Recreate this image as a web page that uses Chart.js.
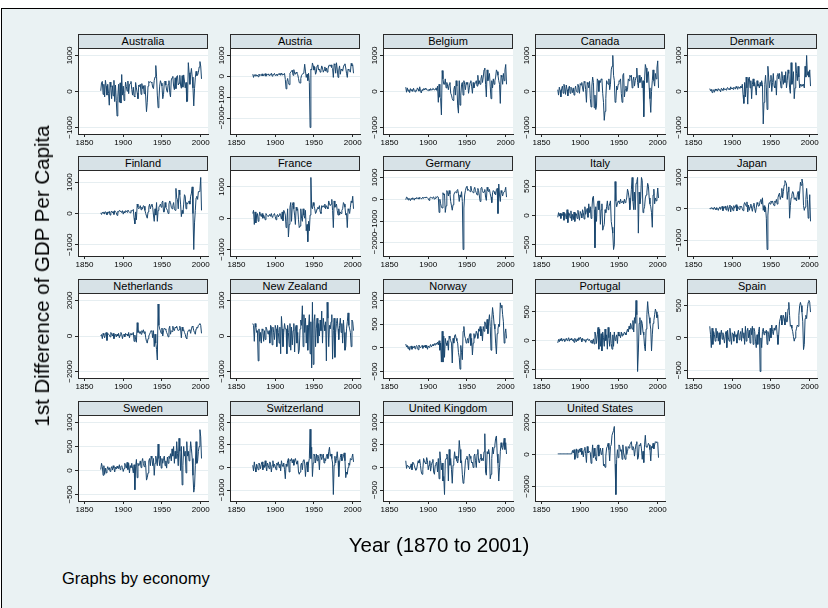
<!DOCTYPE html>
<html>
<head>
<meta charset="utf-8">
<script src="https://cdn.jsdelivr.net/npm/chart.js@4.4.1/dist/chart.umd.min.js"></script>
<style>
  html, body { margin: 0; padding: 0; background: #ffffff; }
  #graph {
    position: absolute; left: 1px; top: 8px; width: 840px; height: 620px;
    background: #EAF2F3; border-left: 1px solid #000; border-top: 1px solid #000;
  }
  .strip {
    position: absolute; box-sizing: border-box; height: 15px;
    background: #D7E2E7; border: 1px solid #2a2a2a;
    font: 11px "Liberation Sans", Arial, sans-serif; color: #000;
    text-align: center; line-height: 13px; white-space: nowrap;
  }
  canvas { position: absolute; }
  .txt { position: absolute; font-family: "Liberation Sans", Arial, sans-serif; color: #000; white-space: nowrap; }
</style>
</head>
<body>
<div id="graph"></div>
<script>
// Year-on-year change in GDP per capita, 1871-2001
const YEARS = Array.from({ length: 131 }, (_, i) => 1871 + i);
const X_TICKS = [1850, 1900, 1950, 2000];

const ECONOMIES = ['Australia', 'Austria', 'Belgium', 'Canada', 'Denmark',
  'Finland', 'France', 'Germany', 'Italy', 'Japan',
  'Netherlands', 'New Zealand', 'Norway', 'Portugal', 'Spain',
  'Sweden', 'Switzerland', 'United Kingdom', 'United States'];

const AUSTRALIA = [20,250,280,-80,200,-150,310,150,-100,200, -50,-380,260,120,-200,160,-120,310,-280,180,
  -250,-680,-150,200,-300,240,-320,470,-100,150, -250,-50,260,140,10,290,-60,200,220,280,
  60,-100,120,-130,-150,250,100,-40,-200,180, 140,200,-80,220,80,160,-60,170,-150,-560,
  -300,150,280,250,270,260,240,120,80,310, 400,720,420,-100,-450,-240,150,300,230,150,
  -200,-80,250,290,180,40,-20,200,300,-30, -150,320,380,420,150,50,380,80,420,440,
  180,230,450,180,90,440,120,460,290,100, 250,-280,-270,800,520,200,470,640,400,100,
  -400,80,380,560,440,460,530,680,830,700, 350];
const AUSTRIA = [100,-50,80,20,90,10,60,-20,110,40, 80,30,120,20,70,50,130,10,100,60,
  120,40,90,70,150,10,100,80,140,40, 60,110,30,120,90,150,50,160,70,120,
  80,140,-150,-600,-250,-100,-300,-400,150,200, 250,300,50,320,150,100,200,150,80,-100,
  -300,-320,-100,50,100,150,200,580,250,-50, 100,-200,150,-300,-2450,350,300,640,500,300,
  450,100,200,500,550,300,350,200,300,500, 400,200,300,450,250,400,200,350,500,550,
  480,550,420,380,-50,600,550,150,650,350, -50,300,500,100,350,300,250,450,550,600,
  400,150,-50,350,300,250,200,620,500,550, 150];
const BELGIUM = [120,-20,100,10,50,-30,80,20,60,0, 90,30,-10,40,20,100,60,10,130,20,
  -40,50,30,80,40,90,60,50,40,20, 60,30,80,40,50,90,70,40,60,100,
  30,150,-300,200,-150,-200,-650,580,350,200, 200,350,100,250,150,50,200,250,-50,-100,
  -200,-250,50,150,-100,300,150,-400,-600,300, -380,-100,200,250,-100,300,200,50,250,200,
  250,-50,100,250,300,150,-50,250,100,200, 250,300,150,450,200,300,200,350,450,250,
  400,600,650,200,-150,600,300,400,500,150, -200,300,100,350,200,300,400,600,550,450,
  300,200,-330,450,400,200,500,300,600,750, 200];
const CANADA = [50,-100,120,30,-150,80,150,-50,200,100, -80,180,50,-120,90,150,-50,120,80,-30,
  100,-100,50,150,0,-20,200,120,-50,220, 180,250,100,0,280,250,50,-300,250,200,
  100,280,-200,-430,150,400,250,-450,-100,-500, -400,350,300,0,300,250,350,330,-50,-300,
  -800,-550,-200,300,250,200,350,50,200,600, 700,1000,450,300,-300,-250,150,50,200,300,
  280,350,-50,-300,450,500,-150,50,150,0, 50,350,300,450,400,450,100,300,400,150,
  300,400,650,250,100,450,250,350,400,100, 300,-700,300,750,650,250,500,550,100,-200,
  -580,0,300,600,300,150,500,350,650,850, 100];
const DENMARK = [80,20,60,-30,50,40,-20,70,30,60, 10,80,40,50,-10,90,60,30,100,50,
  70,40,90,110,60,80,50,130,70,100, 60,120,90,70,140,100,60,130,110,90,
  150,100,200,-100,-330,250,-150,400,100,-350, 350,400,100,300,-200,200,350,150,250,100,
  -100,300,150,200,100,250,150,300,200,-900, -300,200,450,100,-500,700,400,100,300,450,
  0,250,500,150,100,300,-100,450,500,350, 500,300,100,550,350,200,450,250,550,100,
  300,600,500,100,-50,800,200,300,550,-200, 100,800,500,300,700,400,100,200,150,200,
  150,200,100,700,400,1000,450,550,400,600, 150];
const FINLAND = [20,-30,40,10,50,-20,60,30,-40,50, 10,70,-50,40,80,20,60,-30,90,50,
  30,-60,70,40,100,80,60,30,90,-20, 60,20,90,80,40,110,70,50,20,100,
  80,90,130,-150,-330,50,-200,300,200,150, 180,250,120,200,150,250,230,100,0,-80,
  -150,50,200,300,150,250,300,200,-50,-250, 150,-50,350,-250,100,200,250,300,200,350,
  400,50,50,350,200,150,100,0,300,400, 350,200,150,250,350,150,100,800,500,450,
  150,750,600,300,-100,100,0,300,600,550, 150,350,300,350,400,300,550,650,850,0,
  -1150,-300,100,500,550,450,700,700,750,1150, 100];
const FRANCE = [150,250,-200,200,-150,100,150,-100,50,200, 100,50,150,0,100,50,-50,150,100,80,
  50,100,120,60,150,30,80,100,150,50, -50,80,120,40,100,150,80,-30,200,-80,
  250,200,100,-300,-100,300,-600,-200,350,500, -100,400,500,300,100,-200,350,250,300,-50,
  -300,-250,300,0,-100,300,100,0,250,-400, -200,-750,-100,-400,100,1300,350,300,500,400,
  300,150,200,300,350,300,400,200,150,400, 350,400,350,450,300,400,350,300,550,450,
  400,450,600,250,-300,550,350,400,450,250, 100,300,100,200,150,250,300,500,450,350,
  100,150,-300,300,250,150,350,550,500,700, 300];
const GERMANY = [-20,100,80,-30,50,10,-60,40,0,70, 30,-40,60,20,80,40,70,10,90,50,
  20,60,100,40,80,90,60,100,70,30, -50,60,100,80,50,90,110,0,40,120,
  80,130,100,-600,0,-200,-350,-400,300,200, 250,-600,-300,400,300,150,400,250,-100,-300,
  -500,-250,200,300,350,300,400,450,250,-100, 200,100,350,-100,-2300,-400,200,400,550,600,
  400,450,400,350,600,400,350,300,450,550, 400,300,200,500,400,150,-100,500,550,400,
  300,350,450,100,-50,550,400,350,450,250, 100,-150,300,400,350,250,200,450,500,-650,
  700,200,-100,400,300,150,300,350,400,550, 100];
const ITALY = [-30,50,-10,40,-50,30,0,60,-80,40, 20,-60,100,-120,50,30,-40,80,-90,20,
  -70,60,-100,40,30,-50,90,10,-80,70, 30,-40,100,50,-60,150,20,80,120,-30,
  200,50,150,-50,100,300,330,100,-550,150, -100,200,250,100,250,-150,100,200,-250,-200,
  -150,100,50,150,250,100,150,200,250,-100, -200,-300,-580,-500,580,250,150,200,250,230,
  200,280,220,230,250,200,280,220,250,300, 450,400,300,100,250,450,650,250,100,400,
  100,550,580,650,-300,400,200,300,650,600, 50,100,150,300,350,400,550,500,300,200,
  150,50,-200,350,450,200,300,250,300,470, 300];
const JAPAN = [20,-10,40,0,30,-20,50,10,-30,40, 0,-50,30,60,-20,40,80,-60,50,20,
  90,-40,60,100,-80,50,120,-100,80,40, -60,100,20,60,130,-70,80,40,-20,90,
  50,80,0,-60,120,200,150,80,220,-100, 120,-50,60,150,20,-80,100,180,0,-120,
  30,200,150,80,100,250,300,150,350,-50, 100,-100,50,-300,-1300,-200,150,200,150,250,
  200,250,150,100,250,200,300,150,350,450, 500,300,400,650,350,550,750,900,850,800,
  300,550,700,-300,100,350,450,550,500,300, 350,300,250,450,550,300,500,850,750,950,
  800,100,-50,50,300,650,300,-300,-100,450, -400];
const NETHERLANDS = [0,80,-150,150,50,-100,100,200,-250,150, 100,50,-50,200,100,0,150,-150,50,100,
  -50,100,0,150,-100,50,200,100,-150,50, 100,-50,150,50,100,0,200,-100,100,150,
  50,100,200,-300,50,-200,-350,750,200,300, 150,250,100,300,200,350,150,250,-100,-300,
  -400,-150,0,100,200,300,250,-100,300,-600, 100,-400,-750,-1350,1800,600,400,300,150,450,
  0,300,450,400,350,200,100,-50,400,550, 100,300,250,550,350,300,500,450,550,400,
  300,350,550,400,-100,500,300,350,200,100, -100,-150,200,300,350,300,150,400,550,500,
  300,200,100,400,500,450,600,650,700,600, 150];
const NEW_ZEALAND = [350,300,-150,350,250,100,150,-700,200,-150, 100,-200,200,150,-150,150,-100,250,200,100,
  50,150,-200,300,250,-250,250,100,-100,300, 200,-300,300,100,-200,250,-500,550,200,-300,
  100,350,200,200,-500,300,100,-300,350,-400, 250,-250,150,350,-450,200,300,-200,100,-500,
  -400,200,450,300,850,-300,600,100,500,-200, 300,-400,250,600,-500,400,-900,950,-800,400,
  600,-300,200,500,-200,350,0,450,150,700, -200,500,300,150,400,-700,950,500,-300,300,
  200,400,600,-650,150,500,-600,100,350,500, 200,-100,300,500,100,350,-200,450,100,-400,
  -300,200,400,650,300,200,100,-300,450,400, 150];
const NORWAY = [80,20,50,-20,30,-50,10,40,-30,20, 0,40,-20,30,50,10,-40,60,20,0,
  30,50,-10,40,20,60,0,50,-30,40, 10,30,70,20,50,80,40,90,60,100,
  80,120,60,150,-50,100,-300,350,-300,250, -200,200,100,50,150,-50,250,200,150,100,
  -320,200,100,250,280,200,150,100,-100,-200, -450,50,-100,-250,350,450,250,200,100,150,
  200,100,250,300,50,200,-150,100,300,200, 250,350,300,200,400,350,450,250,400,150,
  450,350,550,500,400,600,300,550,700,450, -50,600,850,700,500,400,100,-130,300,400,
  500,450,950,850,900,700,550,100,300,400, 200];
const PORTUGAL = [-40,20,-20,30,0,40,-10,20,30,-20, 10,40,0,20,50,-10,30,10,40,0,
  20,-30,40,10,-20,30,0,50,20,60, 30,-20,40,10,0,20,-30,10,30,20,
  0,20,-10,-40,10,-50,30,-60,150,80, -50,100,230,-150,200,-100,120,-180,150,50,
  -100,200,0,100,-150,230,50,-100,150,-50, -150,100,-100,150,0,50,100,-50,150,80,
  100,50,150,80,120,100,150,130,100,150, 200,150,250,200,300,250,200,350,150,400,
  300,700,450,-540,-200,300,400,100,350,300, 150,100,-100,-180,200,450,680,500,400,300,
  200,-180,100,300,350,450,550,500,400,450, 200];
const SPAIN = [180,50,-150,150,-100,100,50,-50,150,0, 100,-50,80,-100,50,120,-20,80,0,-80,
  50,100,-150,120,0,-50,150,30,-100,80, 60,-50,100,20,50,-80,80,120,-30,50,
  100,-50,150,0,80,-100,180,-50,100,150, 0,120,-80,150,50,180,-100,150,100,-50,
  -150,50,-100,100,170,-520,0,-150,100,150, 50,100,80,120,-100,100,50,-50,150,0,
  200,100,50,150,120,180,200,50,-100,50, 250,300,350,200,250,350,300,200,400,250,
  250,450,550,350,180,200,150,100,20,-50, 0,100,150,200,180,350,500,550,500,400,
  250,-180,-100,300,350,300,450,550,580,550, 400];
const SWEDEN = [20,150,80,-100,100,-80,50,-50,30,80, 20,60,-20,40,80,10,100,50,-30,70,
  30,90,50,40,120,20,80,100,60,-20, 40,150,100,50,170,20,150,-50,100,60,
  150,50,-50,120,-400,80,230,-150,150,100, 120,200,60,180,250,150,80,200,100,-200,
  -150,-50,200,250,100,300,250,100,250,-100, 150,300,200,100,550,250,100,300,50,250,
  150,250,300,100,200,50,280,150,300,250, 350,200,450,300,500,150,400,250,600,350,
  100,670,400,0,500,-300,100,500,300,400, -50,600,300,400,200,350,600,450,250,-100,
  -450,-350,100,600,150,200,400,500,850,700, 250];
const SWITZERLAND = [100,-150,250,0,-200,150,50,-100,200,100, -50,150,250,-100,100,0,300,50,-150,200,
  100,-50,250,150,-200,100,300,0,150,50, -100,200,100,250,0,150,-150,300,100,50,
  200,-100,-500,150,50,300,400,-200,350,300, 400,200,350,100,300,400,250,150,300,-200,
  -300,-200,100,200,-100,300,350,200,-400,100, 250,-200,200,400,1700,400,900,-400,200,600,
  500,200,600,300,550,400,-100,600,500,350, 500,600,200,400,300,500,600,400,700,900,
  500,600,400,200,-1200,100,500,200,400,700, 300,-400,200,450,600,300,400,500,650,300,
  -450,-200,-300,0,200,100,400,350,450,600, 250];
const UNITED_KINGDOM = [150,-20,50,30,20,-30,10,80,-50,120, 100,50,-20,-60,-40,60,150,100,180,40,
  -100,-150,-50,200,150,100,80,220,150,-50, 50,150,-80,40,120,180,-100,-150,50,100,
  120,-100,200,-250,350,150,-50,100,-300,-200, -600,150,200,300,250,-300,400,50,200,-50,
  -350,50,150,350,200,250,150,100,200,600, 400,100,150,-150,-350,-300,-100,150,200,250,
  150,-50,300,250,200,100,120,0,250,300, 150,0,300,400,150,100,200,300,150,200,
  150,350,750,-100,-170,350,300,400,300,-250, -150,200,450,300,450,500,650,700,300,100,
  -300,0,350,550,450,400,500,650,400,550, 300];
const UNITED_STATES = [40,40,40,40,40,40,40,40,40,40, 40,40,40,40,40,40,40,40,40,250,
  100,300,-300,-100,350,-200,300,100,350,150, 400,0,200,-150,300,450,50,-500,500,100,
  150,200,100,-550,0,600,-200,400,-100,-300, -400,500,600,-100,200,400,0,100,400,-700,
  -600,-800,-100,400,500,700,300,-400,500,600, 1200,1200,1500,1750,-600,-2500,-300,300,-200,600,
  500,200,300,-300,600,100,-100,-300,500,0, 200,500,400,600,700,800,300,500,400,-100,
  300,650,800,-300,-200,600,550,700,350,-300, 200,-500,600,1200,500,450,550,700,600,300,
  -400,500,400,700,350,600,800,750,800,750, -200];

const SERIES = [AUSTRALIA, AUSTRIA, BELGIUM, CANADA, DENMARK,
  FINLAND, FRANCE, GERMANY, ITALY, JAPAN,
  NETHERLANDS, NEW_ZEALAND, NORWAY, PORTUGAL, SPAIN,
  SWEDEN, SWITZERLAND, UNITED_KINGDOM, UNITED_STATES];

// labelled y ticks for each economy's own axis
const Y_TICKS = [
  [-1000, 0, 1000], [-2000, -1000, 0, 1000], [-1000, 0, 1000], [-1000, 0, 1000], [-1000, 0, 1000],
  [-1000, 0, 1000], [-1000, 0, 1000], [-2000, -1000, 0, 1000], [-500, 0, 500], [-1000, 0, 1000],
  [-2000, 0, 2000], [-1000, 0, 1000], [-500, 0, 500, 1000], [-500, 0, 500], [-500, 0, 500],
  [-500, 0, 500, 1000], [-1000, 0, 1000, 2000], [-500, 0, 500, 1000], [-2000, 0, 2000]
];

// ---- layout of the 5 x 4 panel grid ----
const COL_LEFT = [78, 230, 383, 535, 687];
const STRIP_TOP = [34, 156, 279, 401];
const AXIS_BOTTOM = [134, 256, 378, 501];
const PANEL_W = 130, STRIP_H = 15;
const LEFT_GUTTER = 26, RIGHT_PAD = 12, TOP_PAD = 4, BOTTOM_GUTTER = 16;
const EDGE = 6.5;   // blank margin inside each plot region, px

const LINE = '#1A476F', AXIS = '#262626', GRID = '#E6EEF1';
const FONT = '"Liberation Sans", Arial, sans-serif';

const fmt = v => (v < 0 ? '\u2212' + Math.abs(v) : String(v));

const plotBackground = {
  id: 'plotBackground',
  beforeDraw(chart) {
    const { ctx, chartArea: a } = chart;
    ctx.save();
    ctx.fillStyle = '#ffffff';
    ctx.fillRect(a.left, a.top, a.right - a.left, a.bottom - a.top);
    ctx.restore();
  }
};

// vertical (rotated) y tick labels
const rotatedYLabels = {
  id: 'rotatedYLabels',
  afterDraw(chart) {
    const y = chart.scales.y, ctx = chart.ctx;
    ctx.save();
    ctx.font = '8px ' + FONT;
    ctx.fillStyle = '#000';
    ctx.textAlign = 'center';
    ctx.textBaseline = 'middle';
    y.ticks.forEach(t => {
      ctx.save();
      ctx.translate(chart.chartArea.left - 8, y.getPixelForValue(t.value));
      ctx.rotate(-Math.PI / 2);
      ctx.fillText(fmt(t.value), 0, 0);
      ctx.restore();
    });
    ctx.restore();
  }
};

const graph = document.getElementById('graph');
const OX = 2, OY = 9; // graph box offset on the page

function addText(text, css) {
  const d = document.createElement('div');
  d.className = 'txt';
  d.textContent = text;
  Object.assign(d.style, css);
  graph.appendChild(d);
  return d;
}

ECONOMIES.forEach((name, i) => {
  const r = Math.floor(i / 5), c = i % 5;
  const left = COL_LEFT[c], stripTop = STRIP_TOP[r];
  const plotTop = stripTop + STRIP_H - 0.5;
  const plotH = AXIS_BOTTOM[r] - plotTop;

  const strip = document.createElement('div');
  strip.className = 'strip';
  strip.textContent = name;
  Object.assign(strip.style, { left: (left - OX) + 'px', top: (stripTop - OY) + 'px', width: PANEL_W + 'px' });
  graph.appendChild(strip);

  const cv = document.createElement('canvas');
  const W = LEFT_GUTTER + PANEL_W + RIGHT_PAD;
  const H = TOP_PAD + plotH + BOTTOM_GUTTER;
  cv.width = W; cv.height = H;
  cv.style.width = W + 'px'; cv.style.height = H + 'px';
  cv.style.left = (left - LEFT_GUTTER - OX) + 'px';
  cv.style.top = (plotTop - TOP_PAD - OY) + 'px';
  graph.appendChild(cv);

  const vals = SERIES[i], ticks = Y_TICKS[i];
  const lo = Math.min(...vals, ticks[0]);
  const hi = Math.max(...vals, ticks[ticks.length - 1]);
  const yPad = (hi - lo) * EDGE / (plotH - 2 * EDGE);
  const xLo = 1850, xHi = 2001;
  const xPad = (xHi - xLo) * EDGE / (PANEL_W - 2 * EDGE);

  new Chart(cv, {
    type: 'line',
    data: {
      datasets: [{
        data: YEARS.map((yr, k) => ({ x: yr, y: vals[k] })),
        borderColor: LINE, borderWidth: 1, pointRadius: 0, tension: 0, fill: false
      }]
    },
    options: {
      responsive: false, animation: false, devicePixelRatio: 1, events: [],
      layout: { padding: { top: TOP_PAD, right: RIGHT_PAD, left: 0, bottom: 0 } },
      plugins: { legend: { display: false }, tooltip: { enabled: false }, title: { display: false } },
      scales: {
        x: {
          type: 'linear', min: xLo - xPad, max: xHi + xPad,
          afterBuildTicks: s => { s.ticks = X_TICKS.map(v => ({ value: v })); },
          afterFit: s => { s.height = BOTTOM_GUTTER; },
          ticks: { callback: v => String(v), font: { size: 8, family: FONT }, color: '#000',
                   padding: 1, maxRotation: 0, autoSkip: false },
          grid: { drawOnChartArea: false, drawTicks: true, tickLength: 3, tickColor: AXIS, lineWidth: 1 },
          border: { display: true, color: AXIS, width: 1 }
        },
        y: {
          type: 'linear', min: lo - yPad, max: hi + yPad,
          afterBuildTicks: s => { s.ticks = ticks.map(v => ({ value: v })); },
          afterFit: s => { s.width = LEFT_GUTTER; },
          ticks: { display: false },
          grid: { color: GRID, lineWidth: 1, drawTicks: true, tickLength: 3, tickColor: AXIS },
          border: { display: true, color: AXIS, width: 1 }
        }
      }
    },
    plugins: [plotBackground, rotatedYLabels]
  });
});

// axis titles and note
addText('1st Difference of GDP Per Capita', {
  fontSize: '20.5px', left: (42 - OX) + 'px', top: (276 - OY) + 'px',
  transform: 'translate(-50%, -50%) rotate(-90deg)'
});
addText('Year (1870 to 2001)', {
  fontSize: '20.5px', left: (439 - OX) + 'px', top: (545 - OY) + 'px',
  transform: 'translate(-50%, -50%)'
});
addText('Graphs by economy', {
  fontSize: '16.5px', left: (62 - OX) + 'px', top: (578 - OY) + 'px',
  transform: 'translate(0, -50%)'
});
</script>
</body>
</html>
